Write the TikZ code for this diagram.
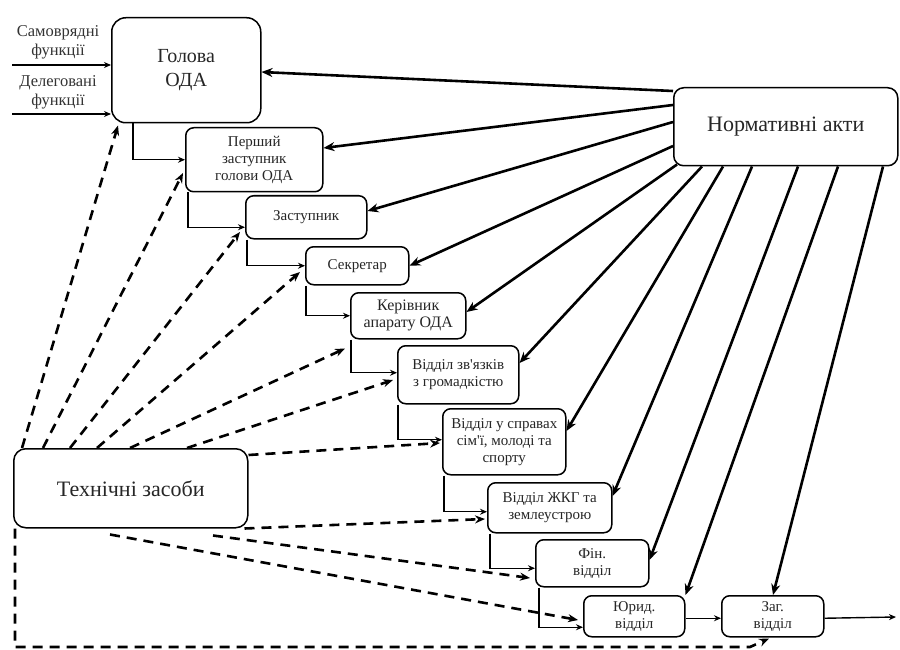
\documentclass[tikz,border=0pt]{standalone}
\usepackage{fontspec}
\setmainfont{Liberation Serif}
\newfontfamily\tmsfont{Liberation Serif}
\usetikzlibrary{arrows.meta}
\begin{document}
\begin{tikzpicture}[x=1pt,y=-1pt,
  box/.style={draw, line width=1.5pt, rounded corners=8pt, align=center, inner sep=1pt, anchor=north west, font=\tmsfont\fontsize{15}{17}\selectfont, text=black!85},
  lbl/.style={align=center, font=\tmsfont\fontsize{16.5}{19}\selectfont, text=black!80, inner sep=0pt},
  stepline/.style={draw, line width=1.4pt, -{Stealth[length=7pt,width=6pt]}},
  normline/.style={draw, line width=2.6pt, -{Stealth[length=11pt,width=9pt]}},
  techline/.style={draw, line width=2.6pt, dash pattern=on 10pt off 7pt, -{Stealth[length=10pt,width=8pt]}}]
\useasboundingbox (0,0) rectangle (900,650);
\fill[white] (0,0) rectangle (900,650);

% boxes
\node[box, rounded corners=14pt, minimum width=149pt, minimum height=105pt, font=\tmsfont\fontsize{20}{24}\selectfont] (hol) at (111,17) {Голова\\ОДА};
\node[box, rounded corners=10pt, minimum width=224pt, minimum height=78pt, font=\tmsfont\fontsize{22}{26}\selectfont] (norm) at (673,87) {Нормативні акти};
\node[box, minimum width=137pt, minimum height=64pt] (p1) at (185,127) {Перший\\заступник\\голови ОДА};
\node[box, minimum width=121pt, minimum height=43pt] (zast) at (245,195) {Заступник};
\node[box, minimum width=103pt, minimum height=38pt] (sekr) at (305,246) {Секретар};
\node[box, minimum width=115pt, minimum height=46pt, font=\tmsfont\fontsize{16}{17}\selectfont] (ker) at (350,292) {Керівник\\апарату ОДА};
\node[box, minimum width=121pt, minimum height=58pt] (zv) at (397,345) {Відділ зв'язків\\з громадкістю};
\node[box, minimum width=123pt, minimum height=66pt] (sim) at (442,408) {Відділ у справах\\сім'ї, молоді та\\спорту};
\node[box, minimum width=124pt, minimum height=50pt] (zhkg) at (487,482) {Відділ ЖКГ та\\землеустрою};
\node[box, minimum width=113pt, minimum height=47pt] (fin) at (535,539) {Фін.\\відділ};
\node[box, minimum width=101pt, minimum height=41pt] (yur) at (583,595) {Юрид.\\відділ};
\node[box, minimum width=102pt, minimum height=41pt] (zag) at (721,595) {Заг.\\відділ};
\node[box, rounded corners=12pt, minimum width=234pt, minimum height=79pt, font=\tmsfont\fontsize{22}{26}\selectfont] (tech) at (13,448) {Технічні засоби};

% function labels and inputs
\node[lbl] (samo) at (58,42) {Самоврядні\\функції};
\node[lbl] (deleg) at (58,92) {Делеговані\\функції};
\coordinate (in1) at (12,65);
\coordinate (in2) at (12,114);
\draw[stepline] (in1) -- (in1 -| hol.west);
\draw[stepline] (in2) -- (in2 -| hol.west);

% chain connectors
\draw[stepline] ([xshift=22pt]hol.south west) |- (p1.west);
\draw[stepline] ([xshift=3pt]p1.south west) |- ([yshift=-10pt]zast.west);
\draw[stepline] ([xshift=2pt]zast.south west) |- (sekr.west);
\draw[stepline] ([xshift=1pt]sekr.south west) |- (ker.west);
\draw[stepline] ([xshift=1pt]ker.south west) |- ([yshift=2pt]zv.west);
\draw[stepline] ([xshift=1pt]zv.south west) |- ([yshift=2pt]sim.west);
\draw[stepline] ([xshift=2pt]sim.south west) |- ([yshift=-4pt]zhkg.west);
\draw[stepline] ([xshift=3pt]zhkg.south west) |- ([yshift=-5pt]fin.west);
\draw[stepline] ([xshift=4pt]fin.south west) |- ([yshift=-11pt]yur.west);
\draw[stepline] ([yshift=-2pt]yur.east) -- ([yshift=-2pt]zag.west);
\coordinate (out) at (896,617);
\draw[stepline] ([yshift=-2pt]zag.east) -- (out);

% normative acts arrows
\draw[normline] ([yshift=-4pt]norm.north west) -- ([yshift=-55pt]hol.north east);
\draw[normline] ([yshift=-18pt]norm.north west) -- ([yshift=-21pt]p1.north east);
\draw[normline] ([yshift=-35pt]norm.north west) -- ([yshift=-16pt]zast.north east);
\draw[normline] ([yshift=-59pt]norm.north west) -- (sekr.east);
\draw[normline] ([xshift=4pt,yshift=2pt]norm.south west) -- ([yshift=-20pt]ker.north east);
\draw[normline] ([xshift=29pt]norm.south west) -- ([yshift=-18pt]zv.north east);
\draw[normline] ([xshift=50pt]norm.south west) -- ([yshift=-23pt]sim.north east);
\draw[normline] ([xshift=79pt]norm.south west) -- ([yshift=-14pt]zhkg.north east);
\draw[normline] ([xshift=125pt]norm.south west) -- ([yshift=-21pt]fin.north east);
\draw[normline] ([xshift=165pt]norm.south west) -- (yur.north east);
\draw[normline] ([xshift=210pt]norm.south west) -- ([xshift=52pt]zag.north west);

% technical means dashed arrows
\draw[techline] ([xshift=9pt]tech.north west) -- ([xshift=7pt,yshift=-2pt]hol.south west);
\draw[techline] ([xshift=30pt]tech.north west) -- ([xshift=-2pt,yshift=-46pt]p1.north west);
\draw[techline] ([xshift=57pt]tech.north west) -- ([xshift=-5pt,yshift=-37pt]zast.north west);
\draw[techline] ([xshift=84pt]tech.north west) -- ([xshift=-5pt,yshift=-26pt]sekr.north west);
\draw[techline] ([xshift=117pt]tech.north west) -- ([xshift=-5pt,yshift=-9pt]ker.south west);
\draw[techline] ([xshift=174pt]tech.north west) -- ([xshift=-4pt,yshift=-35pt]zv.north west);
\draw[techline] ([yshift=-7pt]tech.north east) -- ([xshift=-2pt,yshift=-35pt]sim.north west);
\draw[techline] ([xshift=-4pt]tech.south east) -- ([xshift=-2pt,yshift=-37pt]zhkg.north west);
\draw[techline] ([xshift=200pt,yshift=-7pt]tech.south west) -- ([xshift=-5pt,yshift=-39pt]fin.north west);
\draw[techline] ([xshift=97pt,yshift=-6pt]tech.south west) -- ([xshift=-5pt,yshift=-25pt]yur.north west);
\coordinate (bl) at (15,647);
\coordinate (br) at (750,647);
\draw[techline] ([xshift=2pt]tech.south west) -- (bl) -- (br) -- ([xshift=48pt,yshift=-1pt]zag.south west);
\end{tikzpicture}
\end{document}
